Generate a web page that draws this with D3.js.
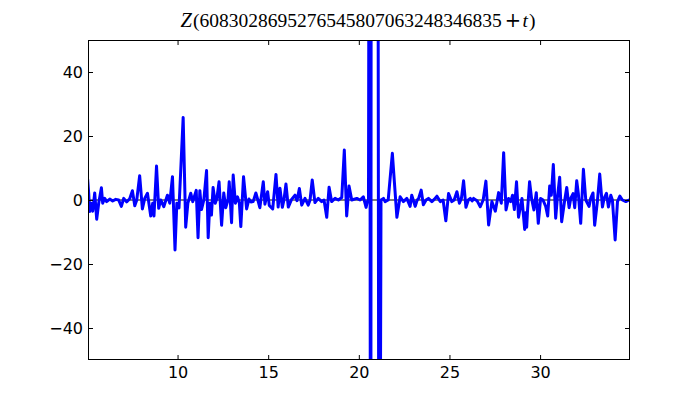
<!DOCTYPE html>
<html>
<head>
<meta charset="utf-8">
<script src="https://cdn.jsdelivr.net/npm/d3@7"></script>
<style>
  body { margin: 0; background: #fff; }
  .tick text { font-family: "DejaVu Sans", sans-serif; font-size: 16px; fill: #000; }
</style>
</head>
<body>
<div id="graph"><svg></svg></div>
<script>
// data
let titleNumber = "6083028695276545807063248346835";
let xTicks = [10, 15, 20, 25, 30];
let yTicks = [-40, -20, 0, 20, 40];
let tValues = [
  5.04, 5.10, 5.15, 5.23, 5.32, 5.43, 5.54, 5.65, 5.80, 5.87, 5.98, 6.09, 6.26, 6.42, 6.59, 6.75,
  6.90, 7.03, 7.19, 7.36, 7.51, 7.64, 7.75, 7.91, 8.06, 8.19, 8.34, 8.52, 8.63, 8.70, 8.84, 8.96,
  9.07, 9.24, 9.44, 9.57, 9.72, 9.86, 9.96, 10.08, 10.31, 10.45, 10.57, 10.73, 10.84, 11.03, 11.13,
  11.23, 11.32, 11.45, 11.60, 11.69, 11.78, 11.87, 11.96, 12.08, 12.17, 12.29, 12.43, 12.55, 12.66,
  12.78, 12.85, 12.98, 13.07, 13.19, 13.31, 13.41, 13.49, 13.64, 13.81, 13.94, 14.05, 14.17, 14.32,
  14.43, 14.54, 14.73, 14.82, 14.97, 15.06, 15.25, 15.43, 15.55, 15.65, 15.78, 15.87, 15.98, 16.11,
  16.29, 16.48, 16.59, 16.72, 16.85, 17.03, 17.21, 17.31, 17.43, 17.58, 17.76, 17.95, 18.08, 18.23,
  18.36, 18.50, 18.69, 18.87, 19.06, 19.20, 19.33, 19.46, 19.61, 19.89, 20.07, 20.25, 20.40,
  20.468, 20.534, 20.589, 20.655, 20.727, 20.948, 21.124, 21.224,
  21.36, 21.45, 21.62, 21.85, 22.10, 22.28, 22.46, 22.65, 22.83,
  22.92, 23.11, 23.22, 23.30, 23.44, 23.56, 23.71, 23.84, 24.03, 24.16, 24.31, 24.49, 24.65, 24.80,
  24.95, 25.13, 25.26, 25.41, 25.55, 25.66, 25.78, 25.91, 26.04, 26.15, 26.25, 26.33, 26.52, 26.70,
  26.86, 27.01, 27.16, 27.34, 27.53, 27.71, 27.86, 27.99, 28.12, 28.26, 28.38, 28.48, 28.58, 28.70,
  28.81, 29.00, 29.15, 29.20, 29.26, 29.31, 29.42, 29.53, 29.66, 29.79, 29.90, 30.03, 30.16, 30.31,
  30.42, 30.53, 30.62, 30.73, 30.86, 30.95, 31.08, 31.19, 31.36, 31.47, 31.60, 31.69, 31.82, 31.91,
  32.02, 32.11, 32.24, 32.39, 32.52, 32.70, 32.79, 32.92, 33.01, 33.16, 33.29, 33.44, 33.53, 33.66,
  33.77, 33.90, 33.99, 34.14, 34.27, 34.40, 34.54, 34.73, 34.91, 34.99
];
let zValues = [
  6.5, 2, -3.6, -1, -3.5, 2.2, -6, -1, 3.8, -1, 0.5, -0.5, 0.3, -0.3, 0.2, 0,
  -2, 0.5, -0.6, 0.4, 2.9, -1.8, 0, 7.6, -2.8, 0.5, 2.1, -5, -1, -5, 10.6, -2.6,
  0, -2.1, 1.5, -1, 7.3, -15.6, -1, -2.5, 25.8, -8.5, -1, 2.1, -0.5, 3, -11.8,
  2.9, -3, 0, 9.2, -11.8, -1, -4.7, 3.9, -1, 0.5, 5.7, -7.9, 2.2, -2.4,
  0, 5.7, -7.1, 7.8, -1, 1, -1, -8.3, 7.3, -2.8, 0.3, -0.6, -0.5, 2.2,
  0, -2.4, 5.7, -1.3, 2.6, -1.7, -2.8, 8, -2.2, 3.7, -2.3, 0, 5, -2.2,
  0.2, 1.5, -0.2, 3.6, -1.6, 0.5, -1.6, 0, 6.25, -0.8, 0.5, -0.5, 0, -5.4,
  4, -0.5, 0.5, 0, 0.8, 15.6, -5, 4.4, 0, 0.5, 0, 1, -2.3,
  -0.5, 0, 200, -200, 600, 600, -200, 0,
  0.5, -0.5, 0, 14.6, -5.4, 1, -0.5, 0.5, -2,
  1.5, -2, 0, 0.5, 3.1, -1.5, 0, 0.5, -0.5, 0.2, 1.2, -0.5, 0, -6.5,
  2, -0.5, 0, 2.6, -1, 0.5, 6, -2.3, 0, 0.5, -0.3, 0.5, -0.2, -2.1,
  0, 5.9, -7.8, -0.5, -3.5, 2.3, -1, 14.8, -3.1, 0.5, -0.5, 1.5, -3, 5.7,
  -5.4, 0.5, -9.2, -4, -8.5, -3, 5.7, 0.5, -3.1, 2.3, -7.3, 0.5, 0, -2,
  -5, 4.4, 1.5, 11.1, -5.7, 0.5, 7.1, -6.8, 0, 3.9, -2.4, 0.5, 2, -2.4,
  6, 2, -7.3, 9.6, 0, -2, 0.5, 2.2, -7.9, -0.5, 8.1, -2.2, 0.5, 2.1,
  -2.2, 1.5, 0, -12.5, -0.5, 1.2, 0, -0.5, 0, 0.2
];

// Margin Convention
let margins = { top: 40, right: 70, bottom: 40, left: 88 };
let outerWidth = 700;
let outerHeight = 400;
let innerWidth = outerWidth - margins.left - margins.right;
let innerHeight = outerHeight - margins.top - margins.bottom;

let root = d3.select("div#graph svg")
  .attr("width", outerWidth)
  .attr("height", outerHeight);

let svg = root.append("g")
  .attr("id", "plot-area")
  .attr("transform", "translate(" + margins.left + "," + margins.top + ")");

let data = tValues.map((t, i) => ({ t: t, z: zValues[i] }));

let xScale = d3.scaleLinear().domain([5.06, 34.96]).range([0, innerWidth]);
let yScale = d3.scaleLinear().domain([-50, 50]).range([innerHeight, 0]);

svg.append("clipPath")
  .attr("id", "clip")
  .append("rect")
  .attr("width", innerWidth)
  .attr("height", innerHeight);

// zero line under the curve
svg.append("line")
  .attr("clip-path", "url(#clip)")
  .attr("x1", 0)
  .attr("x2", innerWidth)
  .attr("y1", yScale(0))
  .attr("y2", yScale(0))
  .style("stroke", "#000")
  .style("stroke-width", 1);

let line = d3.line()
  .x((d) => xScale(d.t))
  .y((d) => yScale(d.z));

svg.append("path")
  .datum(data)
  .attr("clip-path", "url(#clip)")
  .attr("d", line)
  .style("fill", "none")
  .style("stroke", "#0000ff")
  .style("stroke-width", 3)
  .style("stroke-linejoin", "round")
  .style("stroke-linecap", "butt");

// axes, ticks pointing inwards on all four sides
svg.append("g")
  .attr("transform", "translate(0," + innerHeight + ")")
  .call(d3.axisBottom(xScale).tickValues(xTicks).tickSize(-5).tickPadding(7))
  .select(".domain").remove();

let topAxis = svg.append("g")
  .call(d3.axisTop(xScale).tickValues(xTicks).tickSize(-5));
topAxis.select(".domain").remove();
topAxis.selectAll("text").remove();

svg.append("g")
  .call(d3.axisLeft(yScale).tickValues(yTicks).tickSize(-5).tickPadding(5))
  .select(".domain").remove();

let rightAxis = svg.append("g")
  .attr("transform", "translate(" + innerWidth + ",0)")
  .call(d3.axisRight(yScale).tickValues(yTicks).tickSize(-5));
rightAxis.select(".domain").remove();
rightAxis.selectAll("text").remove();

svg.selectAll(".tick line").style("stroke", "#000");

// frame
svg.append("rect")
  .attr("x", 0.5)
  .attr("y", 0.5)
  .attr("width", innerWidth - 1)
  .attr("height", innerHeight - 1)
  .style("fill", "none")
  .style("stroke", "#000")
  .style("stroke-width", 1);

// title
let title = svg.append("text")
  .attr("x", innerWidth / 2 - 1)
  .attr("y", -13)
  .attr("text-anchor", "middle")
  .style("font-family", "'Liberation Serif', serif")
  .style("font-size", "19.5px");
title.append("tspan").style("font-style", "italic").style("font-size", "20.5px").text("Z");
title.append("tspan").attr("dx", 1).text("(" + titleNumber);
title.append("tspan").attr("dx", 3).style("font-family", "'DejaVu Serif', serif").text("+");
title.append("tspan").attr("dx", 1.5).style("font-style", "italic").text("t");
title.append("tspan").attr("dx", 1).text(")");
</script>
</body>
</html>
